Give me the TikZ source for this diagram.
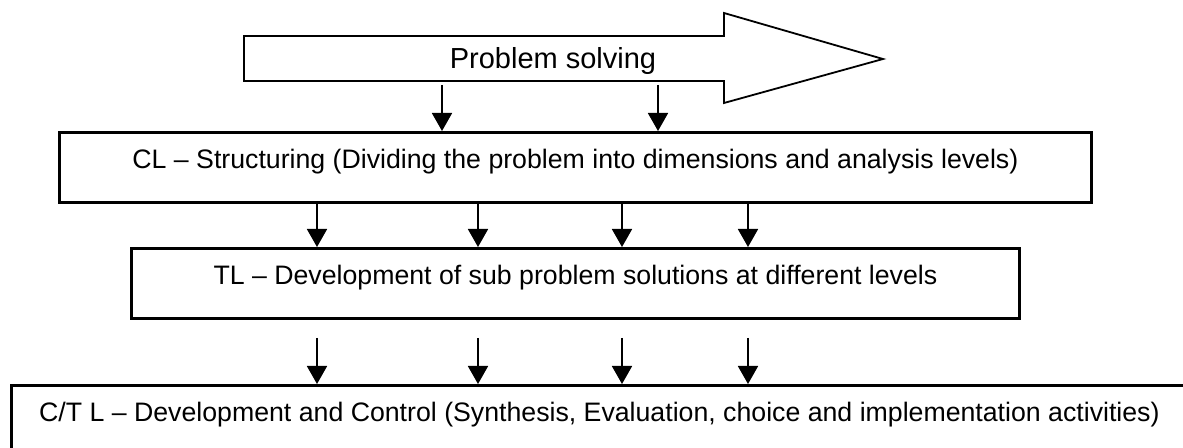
\documentclass[tikz,border=0pt]{standalone}
\usepackage{fontspec}
\setmainfont{Liberation Sans}
\usetikzlibrary{arrows.meta}

\tikzset{
  level/.style={draw, line width=1.4pt, inner sep=0pt, anchor=north west,
    text height=18.3pt, text depth=16.7pt, font=\fontsize{13.35}{15}\selectfont},
  flow/.style={-{Triangle[width=10pt,length=9pt]}, line width=0.9pt},
}

\begin{document}
\begin{tikzpicture}[x=0.5pt,y=-0.5pt]
  \useasboundingbox (0,0) rectangle (1183,448);
  \clip (0,0) rectangle (1183,448);
  % problem solving arrow
  \draw [line width=0.9pt] (244,36) -- (724,36) -- (724,13) -- (883,59)
    -- (724,103) -- (724,81) -- (244,81) -- cycle;
  \node [font=\fontsize{14.5}{16}\selectfont] (ps) at (553,61) {Problem solving};
  % levels
  \node [level, minimum width=516pt] (cl) at (58,131)
    {CL -- Structuring (Dividing the problem into dimensions and analysis levels)};
  \node [level, minimum width=444pt] (tl) at (130,247)
    {TL -- Development of sub problem solutions at different levels};
  \node [level, minimum width=588pt] (ctl) at (10,384)
    {C/T L -- Development and Control (Synthesis, Evaluation, choice and implementation activities)};
  % columns
  \coordinate (shaftlow) at (0,85);
  \coordinate (gap) at (0,338);
  \coordinate (p1) at (442,0);
  \coordinate (p2) at (658,0);
  \coordinate (c1) at (317,0);
  \coordinate (c2) at (478,0);
  \coordinate (c3) at (622,0);
  \coordinate (c4) at (748,0);
  \draw [flow] (p1 |- shaftlow) -- (p1 |- cl.north);
  \draw [flow] (p2 |- shaftlow) -- (p2 |- cl.north);
  \foreach \c in {c1,c2,c3,c4} {
    \draw [flow] (\c |- cl.south) -- (\c |- tl.north);
    \draw [flow] (\c |- gap) -- (\c |- ctl.north);
  }
\end{tikzpicture}
\end{document}
